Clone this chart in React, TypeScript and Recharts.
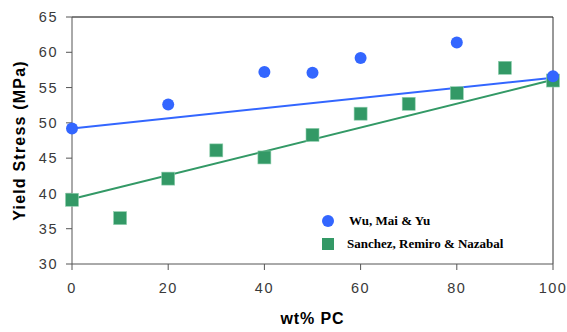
import React from 'react';
import {
  ComposedChart, Scatter, Line, XAxis, YAxis, ReferenceLine
} from 'recharts';

const pcWu = [0, 20, 40, 50, 60, 80, 100];
const stressWu = [49.2, 52.6, 57.2, 57.1, 59.2, 61.4, 56.6];
const pcSanchez = [0, 10, 20, 30, 40, 50, 60, 70, 80, 90, 100];
const stressSanchez = [39.1, 36.5, 42.1, 46.1, 45.1, 48.3, 51.3, 52.7, 54.2, 57.8, 56.0];
const trendPc = [0, 100];
const trendWu = [49.2, 56.4];
const trendSanchez = [39.2, 56.1];
const xTicks = [0, 20, 40, 60, 80, 100];
const yTicks = [30, 35, 40, 45, 50, 55, 60, 65];
const seriesNames = ['Wu, Mai & Yu', 'Sanchez, Remiro & Nazabal'];

const BLUE = '#3366FF';
const GREEN = '#339966';
const SANS = 'Liberation Sans, Arial, sans-serif';

const wuData = pcWu.map((x, i) => ({ x, y: stressWu[i] }));
const sanchezData = pcSanchez.map((x, i) => ({ x, y: stressSanchez[i] }));
const wuTrend = trendPc.map((x, i) => ({ x, y: trendWu[i] }));
const sanchezTrend = trendPc.map((x, i) => ({ x, y: trendSanchez[i] }));

const tickStyle = { fill: '#3a3a3a', fontSize: 14.5, fontFamily: SANS, letterSpacing: 1.5 };

const CircleDot = (props: any) => (
  <circle cx={props.cx} cy={props.cy} r={6} fill={BLUE} />
);
const SquareDot = (props: any) => (
  <rect x={props.cx - 6.5} y={props.cy - 6.5} width={13} height={13} fill={GREEN} stroke="#8fcfae" strokeWidth={0.6} />
);

// legend sits inside the plot, lower right
const LegendBox = () => (
  <div style={{ position: 'absolute', left: 321, top: 209, fontFamily: 'Liberation Serif, Times New Roman, serif', fontWeight: 'bold', fontSize: 13, color: '#000' }}>
    <div style={{ display: 'flex', alignItems: 'center', height: 23 }}>
      <svg width={14} height={14}><circle cx={7} cy={7} r={6} fill={BLUE} /></svg>
      <span style={{ marginLeft: 14 }}>{seriesNames[0]}</span>
    </div>
    <div style={{ display: 'flex', alignItems: 'center', height: 23 }}>
      <svg width={14} height={14}><rect x={1} y={1} width={12} height={12} fill={GREEN} /></svg>
      <span style={{ marginLeft: 12 }}>{seriesNames[1]}</span>
    </div>
  </div>
);

export default function App() {
  return (
    <div style={{ position: 'absolute', top: 0, left: 0, width: 567, height: 332, background: '#fff' }}>
      <ComposedChart width={567} height={332} margin={{ top: 17, right: 14, bottom: 0, left: 0 }}>
        <XAxis
          xAxisId="b"
          dataKey="x"
          type="number"
          domain={[0, 100]}
          ticks={xTicks}
          tick={tickStyle}
          tickSize={6}
          tickMargin={13}
          stroke="#555555"
          height={68}
          label={{ value: 'wt% PC', position: 'insideTop', offset: 49, fill: '#000', fontSize: 16, fontWeight: 'bold', fontFamily: SANS, letterSpacing: 0.9 }}
        />
        <YAxis
          yAxisId="l"
          type="number"
          domain={[30, 65]}
          ticks={yTicks}
          tick={tickStyle}
          tickSize={6}
          tickMargin={8}
          stroke="#555555"
          width={72}
          label={{ value: 'Yield Stress (MPa)', angle: -90, position: 'insideLeft', offset: 19, fill: '#000', fontSize: 16, fontWeight: 'bold', fontFamily: SANS, letterSpacing: 1.2, style: { textAnchor: 'middle' } }}
        />
        <ReferenceLine xAxisId="b" yAxisId="l" y={65} stroke="#000" strokeWidth={1} />
        <ReferenceLine xAxisId="b" yAxisId="l" x={100} stroke="#333" strokeWidth={1} />
        <Line xAxisId="b" yAxisId="l" data={sanchezTrend} dataKey="y" stroke={GREEN} strokeWidth={2} dot={false} legendType="none" isAnimationActive={false} />
        <Line xAxisId="b" yAxisId="l" data={wuTrend} dataKey="y" stroke={BLUE} strokeWidth={2} dot={false} legendType="none" isAnimationActive={false} />
        <Scatter xAxisId="b" yAxisId="l" data={sanchezData} dataKey="y" shape={<SquareDot />} isAnimationActive={false} />
        <Scatter xAxisId="b" yAxisId="l" data={wuData} dataKey="y" shape={<CircleDot />} isAnimationActive={false} />
      </ComposedChart>
      <LegendBox />
    </div>
  );
}
